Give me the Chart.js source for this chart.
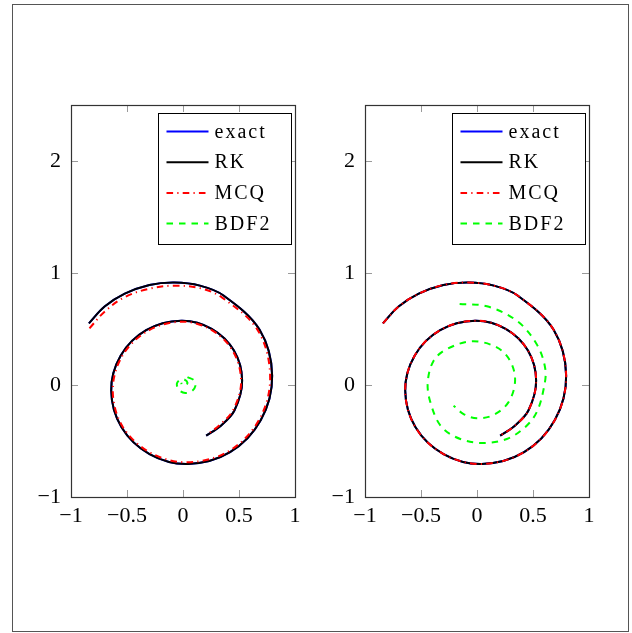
<!DOCTYPE html>
<html>
<head>
<meta charset="utf-8">
<script src="https://cdn.jsdelivr.net/npm/chart.js@4.4.1/dist/chart.umd.min.js"></script>
<style>
  html, body { margin: 0; padding: 0; background: #fff; }
  #page { position: relative; width: 632px; height: 633px; }
  #frame { position: absolute; left: 12px; top: 4px; width: 617px; height: 628px; border: 1px solid #555; box-sizing: border-box; }
  canvas { position: absolute; top: 0; }
</style>
</head>
<body>
<div id="page">
  <div id="frame"></div>
  <canvas id="left" width="316" height="633" style="left:0"></canvas>
  <canvas id="right" width="316" height="633" style="left:316px"></canvas>
</div>
<script>
const seriesNames = ['exact', 'RK', 'MCQ', 'BDF2'];
const xTicks = [-1, -0.5, 0, 0.5, 1];
const yTicks = [-1, 0, 1, 2];

// exact solution (RK lies on top of it in both panels)
const exactX = [-0.84, -0.70, -0.52, -0.30, -0.076, 0.151, 0.362, 0.683, 0.796, 0.695, 0.420, 0.043, -0.299, -0.549, -0.641, -0.557, -0.329, -0.016, 0.256, 0.455, 0.528, 0.459, 0.33, 0.207];
const exactY = [0.55, 0.70, 0.815, 0.893, 0.915, 0.887, 0.799, 0.495, 0.083, -0.313, -0.600, -0.705, -0.617, -0.378, -0.05, 0.262, 0.490, 0.574, 0.502, 0.307, 0.039, -0.228, -0.37, -0.452];

// MCQ, left panel (slightly inside the exact curve)
const mcqLeftX = [-0.835, -0.70, -0.52, -0.30, -0.08, 0.15, 0.35, 0.67, 0.778, 0.68, 0.41, 0.04, -0.29, -0.54, -0.627, -0.545, -0.32, -0.02, 0.25, 0.447, 0.519, 0.45, 0.33, 0.222];
const mcqLeftY = [0.506, 0.655, 0.785, 0.86, 0.887, 0.865, 0.78, 0.485, 0.07, -0.31, -0.59, -0.69, -0.605, -0.37, -0.05, 0.255, 0.48, 0.565, 0.495, 0.30, 0.03, -0.22, -0.355, -0.4375];

// BDF2, left panel (collapsed to the origin)
const bdfLeftX = [0.04, 0.1, 0.11, 0.08, 0.02, -0.035, -0.055, -0.03, 0.01, 0.04, 0.02, -0.01, -0.015];
const bdfLeftY = [0.07, 0.04, -0.01, -0.055, -0.072, -0.045, 0.01, 0.045, 0.05, 0.02, -0.005, 0.005, 0.02];

// BDF2, right panel
const bdfRightX = [-0.155, 0.088, 0.355, 0.532, 0.61, 0.595, 0.532, 0.428, 0.266, 0.058, -0.149, -0.32, -0.416, -0.44, -0.387, -0.268, -0.045, 0.177, 0.295, 0.34, 0.28, 0.147, 0.0, -0.12, -0.209];
const bdfRightY = [0.723, 0.703, 0.574, 0.366, 0.143, -0.036, -0.244, -0.378, -0.482, -0.518, -0.482, -0.37, -0.155, 0.024, 0.217, 0.321, 0.390, 0.336, 0.217, 0.038, -0.155, -0.268, -0.297, -0.259, -0.185];

const FONT = "'Liberation Serif', 'DejaVu Serif', serif";
const TICK_LEN = 7;

function toPoints(xs, ys) {
    return xs.map((x, i) => ({x: x, y: ys[i]}));
}

function fmt(v) {
    return v < 0 ? '\u2212' + Math.abs(v) : String(v);
}

// pgfplots style box with ticks pointing inwards
const axisFrame = {
    id: 'axisFrame',
    beforeDatasetsDraw(chart) {
        const {ctx, chartArea: a, scales: {x, y}} = chart;
        ctx.save();
        ctx.strokeStyle = '#9a9a9a';
        ctx.lineWidth = 1;
        ctx.beginPath();
        x.ticks.forEach(t => {
            const px = Math.round(x.getPixelForValue(t.value)) + 0.5;
            ctx.moveTo(px, a.bottom);
            ctx.lineTo(px, a.bottom - TICK_LEN);
            ctx.moveTo(px, a.top);
            ctx.lineTo(px, a.top + TICK_LEN);
        });
        y.ticks.forEach(t => {
            const py = Math.round(y.getPixelForValue(t.value)) + 0.5;
            ctx.moveTo(a.left, py);
            ctx.lineTo(a.left + TICK_LEN, py);
            ctx.moveTo(a.right, py);
            ctx.lineTo(a.right - TICK_LEN, py);
        });
        ctx.stroke();
        ctx.strokeStyle = '#333';
        ctx.lineWidth = 1.2;
        ctx.strokeRect(a.left + 0.5, a.top + 0.5, a.width, a.height);
        ctx.restore();
    }
};

const boxLegend = {
    id: 'boxLegend',
    afterDatasetsDraw(chart) {
        const {ctx, chartArea: a} = chart;
        const w = 133, h = 131;
        const x0 = Math.round(a.right - 4 - w) + 0.5;
        const y0 = Math.round(a.top + 8) + 0.5;
        ctx.save();
        ctx.fillStyle = '#fff';
        ctx.fillRect(x0, y0, w, h);
        ctx.strokeStyle = '#000';
        ctx.lineWidth = 1;
        ctx.strokeRect(x0, y0, w, h);
        chart.data.datasets.forEach((ds, i) => {
            const yy = y0 + 18 + i * 30.7;
            ctx.strokeStyle = ds.borderColor;
            ctx.lineWidth = ds.borderWidth;
            ctx.setLineDash(ds.borderDash || []);
            ctx.beginPath();
            ctx.moveTo(x0 + 8, yy);
            ctx.lineTo(x0 + 50, yy);
            ctx.stroke();
            ctx.setLineDash([]);
            ctx.fillStyle = '#000';
            ctx.font = '20px ' + FONT;
            ctx.letterSpacing = '2px';
            ctx.textBaseline = 'middle';
            ctx.fillText(ds.label, x0 + 56, yy + 1);
        });
        ctx.restore();
    }
};

function makeDatasets(mcq, bdf) {
    const base = {showLine: true, pointRadius: 0, borderWidth: 2, tension: 0.35, fill: false};
    return [
        Object.assign({}, base, {label: seriesNames[0], data: toPoints(exactX, exactY), borderColor: '#0000ff', order: 4}),
        Object.assign({}, base, {label: seriesNames[1], data: toPoints(exactX, exactY), borderColor: '#000000', order: 3}),
        Object.assign({}, base, {label: seriesNames[2], data: mcq, borderColor: '#ff0000', borderDash: [6.6, 4.2, 1.2, 4.2], order: 2}),
        Object.assign({}, base, {label: seriesNames[3], data: bdf, borderColor: '#00ff00', borderDash: [6.5, 6], order: 1})
    ];
}

function createChart(canvas, datasets, padLeft, padRight) {
    return new Chart(canvas, {
        type: 'scatter',
        data: {datasets: datasets},
        plugins: [axisFrame, boxLegend],
        options: {
            responsive: false,
            animation: false,
            layout: {
                padding: {left: padLeft, right: padRight, top: 105, bottom: 96}
            },
            scales: {
                x: {
                    type: 'linear',
                    min: -1,
                    max: 1,
                    grid: {display: false, drawTicks: false},
                    border: {display: false},
                    afterBuildTicks: (scale) => { scale.ticks = xTicks.map(v => ({value: v})); },
                    afterFit: (scale) => { scale.height = 40; },
                    ticks: {
                        color: '#000',
                        padding: 6,
                        maxRotation: 0,
                        font: {family: FONT, size: 22},
                        callback: (v) => fmt(v)
                    }
                },
                y: {
                    type: 'linear',
                    min: -1,
                    max: 2.5,
                    grid: {display: false, drawTicks: false},
                    border: {display: false},
                    afterBuildTicks: (scale) => { scale.ticks = yTicks.map(v => ({value: v})); },
                    afterFit: (scale) => { scale.width = 40; },
                    ticks: {
                        color: '#000',
                        padding: 10,
                        font: {family: FONT, size: 22},
                        callback: (v) => fmt(v)
                    }
                }
            },
            plugins: {
                legend: {display: false},
                tooltip: {enabled: false}
            }
        }
    });
}

// left panel: chart area 71..295, right panel: 365..589 (page coordinates)
createChart(document.getElementById('left'),
    makeDatasets(toPoints(mcqLeftX, mcqLeftY), toPoints(bdfLeftX, bdfLeftY)), 31, 21);
createChart(document.getElementById('right'),
    makeDatasets(toPoints(exactX, exactY), toPoints(bdfRightX, bdfRightY)), 9, 43);
</script>
</body>
</html>
